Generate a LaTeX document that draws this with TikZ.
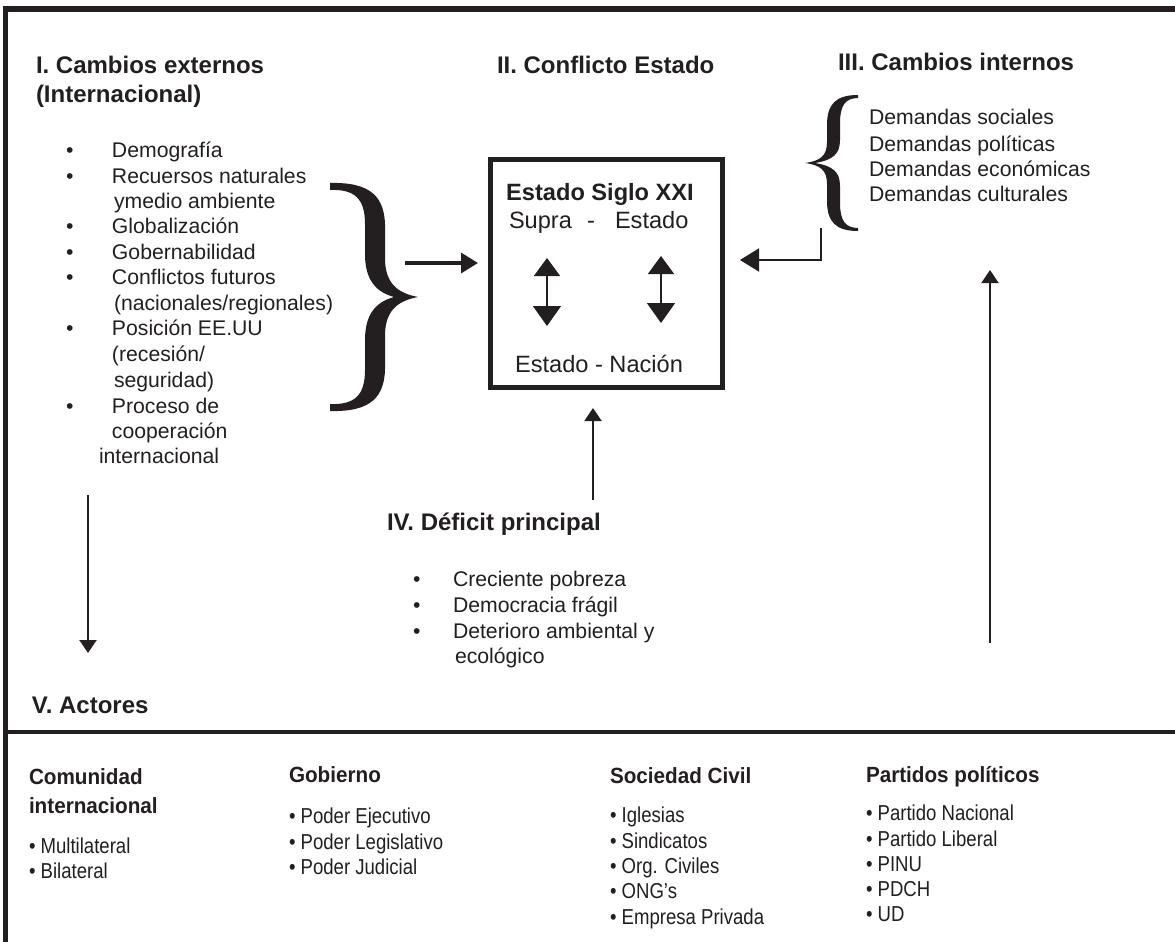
\documentclass[tikz,border=0pt]{standalone}
\usepackage{fontspec}
\setmainfont{Liberation Sans}
\newfontfamily\narrowsans[FakeStretch=0.86]{Liberation Sans}
\newfontfamily\narrowbold[FakeStretch=0.94]{Liberation Sans Bold}
\usetikzlibrary{arrows.meta,calc}
\definecolor{ink}{RGB}{35,31,32}
\begin{document}
\begin{tikzpicture}[x=0.5pt,y=-0.5pt,
  every node/.style={inner sep=0pt, outer sep=0pt, text=ink},
  txt/.style={font=\fontsize{10.6}{12.7}\selectfont, anchor=base west},
  hd/.style={font=\bfseries\fontsize{12}{14}\selectfont, anchor=base west},
  btxt/.style={font=\narrowsans\fontsize{10.8}{13}\selectfont, anchor=base west},
  bhd/.style={font=\narrowbold\fontsize{11}{13}\selectfont, anchor=base west},
  boxtxt/.style={font=\fontsize{11.8}{14}\selectfont, anchor=base},
  conn/.style={draw=ink, line width=1pt},
  smallarr/.style={conn, -{Triangle[length=6.5pt,width=8.5pt]}},
  dblarr/.style={draw=ink, line width=0.8pt, {Triangle[length=9pt,width=13pt]}-{Triangle[length=10pt,width=14pt]}},
  bracefill/.style={fill=ink, draw=none}]
\useasboundingbox (0,0) rectangle (1175,942);
\fill[white] (0,0) rectangle (1175,942);
% frame
\draw[ink, line width=2.6pt, line join=miter] (5.5,942) -- (5.5,9) -- (1175,9);
\draw[ink, line width=1.6pt] (5.5,732) -- (1175,732);

% headings
\node[hd] (h1a) at (36,73) {I. Cambios externos};
\node[hd] (h1b) at (36,102) {(Internacional)};
\node[hd] (h2) at (497,73) {II. Conflicto Estado};
\node[hd] (h3) at (838,70) {III. Cambios internos};
\node[hd] (h4) at (387,530) {IV. Déficit principal};
\node[hd] (h5) at (32,713) {V. Actores};

% list I
\node[txt] (b1) at (66,157) {•};
\node[txt] (l1) at (112,157) {Demografía};
\node[txt] (b2) at (66,183) {•};
\node[txt] (l2) at (112,183) {Recuersos naturales};
\node[txt] (l3) at (114,208) {ymedio ambiente};
\node[txt] (b4) at (66,233) {•};
\node[txt] (l4) at (112,233) {Globalización};
\node[txt] (b5) at (66,259) {•};
\node[txt] (l5) at (112,259) {Gobernabilidad};
\node[txt] (b6) at (66,284) {•};
\node[txt] (l6) at (112,284) {Conflictos futuros};
\node[txt] (l7) at (114,310) {(nacionales/regionales)};
\node[txt] (b8) at (66,335) {•};
\node[txt] (l8) at (112,335) {Posición EE.UU};
\node[txt] (l9) at (112,361) {(recesión/};
\node[txt] (l10) at (114,387) {seguridad)};
\node[txt] (b11) at (66,413) {•};
\node[txt] (l11) at (112,413) {Proceso de};
\node[txt] (l12) at (112,438) {cooperación};
\node[txt] (l13) at (99,463) {internacional};

% big right brace
\path[bracefill] (330,183)
  .. controls (370,182) and (386,196) .. (385,230) -- (385,258)
  .. controls (385,283) and (397,293) .. (418,297)
  .. controls (397,301) and (385,311) .. (385,336) -- (385,364)
  .. controls (386,398) and (370,412) .. (330,411) -- (330,404)
  .. controls (355,405) and (365,395) .. (365,370) -- (365,340)
  .. controls (365,314) and (376,302) .. (394,297)
  .. controls (376,292) and (365,280) .. (365,254) -- (365,224)
  .. controls (365,199) and (355,189) .. (330,190) -- cycle;

% box
\node[draw=ink, line width=2.5pt, minimum width=116pt, minimum height=114pt] (estado) at (606,273) {};
\node[boxtxt, font=\bfseries\fontsize{11.8}{14}\selectfont] (siglo) at (600,200) {Estado Siglo XXI};
\node[boxtxt, anchor=base west] (supra) at (509,228) {Supra};
\node[boxtxt, anchor=base west] (dash) at (587,228) {-};
\node[boxtxt, anchor=base west] (supest) at (615,228) {Estado};
\node[boxtxt] (nacion) at (599,372) {Estado - Nación};
\coordinate (da1) at (547,258);
\coordinate (da2) at (547,326);
\coordinate (db1) at (661,256);
\coordinate (db2) at (661,323);
\draw[dblarr] (da1) -- (da2);
\draw[dblarr] (db1) -- (db2);

% arrow from brace to box
\coordinate (braceTip) at (405,263);
\draw[draw=ink, line width=1.6pt, -{Triangle[length=8.5pt,width=10pt]}, shorten >=6pt] (braceTip) -- (braceTip -| estado.west);

% list III
\path[bracefill] (858,95)
  .. controls (836,95) and (827,104) .. (827,125) -- (827,142)
  .. controls (827,156) and (820,161) .. (805,163)
  .. controls (820,165) and (827,170) .. (827,184) -- (827,201)
  .. controls (827,222) and (836,231) .. (858,231) -- (858,228)
  .. controls (845,228) and (840,220) .. (840,203) -- (840,186)
  .. controls (840,172) and (833,166) .. (815,163)
  .. controls (833,160) and (840,154) .. (840,140) -- (840,123)
  .. controls (840,106) and (845,98) .. (858,98) -- cycle;
\node[txt] (d1) at (869,125) {Demandas sociales};
\node[txt] (d2) at (869,151) {Demandas políticas};
\node[txt] (d3) at (869,176) {Demandas económicas};
\node[txt] (d4) at (869,201) {Demandas culturales};
\coordinate (c3) at (821,228);
\coordinate (r260) at (0,260);
\draw[conn, -{Triangle[length=9.5pt,width=11.5pt]}, shorten >=9pt] (c3) |- (estado.east |- r260);

% IV
\coordinate (c4) at (593,500);
\draw[smallarr, shorten >=10.5pt] (c4) -- (c4 |- estado.south);
\node[txt] (e1b) at (413,586) {•};
\node[txt] (e1) at (453,586) {Creciente pobreza};
\node[txt] (e2b) at (413,612) {•};
\node[txt] (e2) at (453,612) {Democracia frágil};
\node[txt] (e3b) at (413,638) {•};
\node[txt] (e3) at (453,638) {Deterioro ambiental y};
\node[txt] (e4) at (455,663) {ecológico};

% vertical arrows
\coordinate (va1) at (88,495);
\coordinate (va2) at (88,653);
\draw[smallarr] (va1) -- (va2);
\coordinate (vb1) at (990,643);
\coordinate (vb2) at (990,270);
\draw[smallarr] (vb1) -- (vb2);

% actors
\node[bhd] (a1) at (29,784) {Comunidad};
\node[bhd] (a1b) at (29,813) {internacional};
\node[btxt] (a11) at (29,853) {• Multilateral};
\node[btxt] (a12) at (29,878) {• Bilateral};

\node[bhd] (a2) at (289,782) {Gobierno};
\node[btxt] (a21) at (289,823) {• Poder Ejecutivo};
\node[btxt] (a22) at (289,849) {• Poder Legislativo};
\node[btxt] (a23) at (289,874) {• Poder Judicial};

\node[bhd] (a3) at (610,783) {Sociedad Civil};
\node[btxt] (a31) at (610,822) {• Iglesias};
\node[btxt] (a32) at (610,848) {• Sindicatos};
\node[btxt] (a33) at (610,873) {• Org. Civiles};
\node[btxt] (a34) at (610,898) {• ONG’s};
\node[btxt] (a35) at (610,924) {• Empresa Privada};

\node[bhd] (a4) at (866,782) {Partidos políticos};
\node[btxt] (a41) at (866,820) {• Partido Nacional};
\node[btxt] (a42) at (866,846) {• Partido Liberal};
\node[btxt] (a43) at (866,871) {• PINU};
\node[btxt] (a44) at (866,896) {• PDCH};
\node[btxt] (a45) at (866,921) {• UD};
\end{tikzpicture}
\end{document}
